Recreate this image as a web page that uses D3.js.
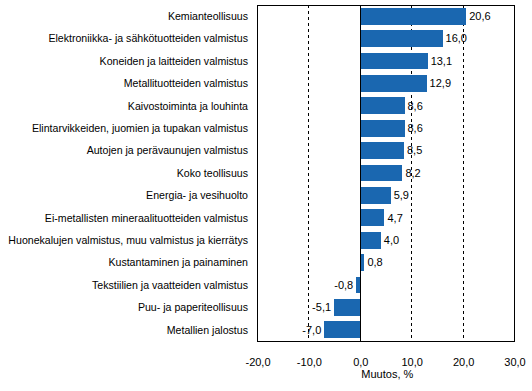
<!DOCTYPE html>
<html><head><meta charset="utf-8">
<script src="https://cdn.jsdelivr.net/npm/d3@7"></script>
<style>body{margin:0;background:#fff}svg{display:block}text{font-family:"Liberation Sans",Arial,sans-serif;font-size:11px;fill:#000}</style>
</head><body><svg id="c" width="532" height="391"></svg>
<script>
const categories = ["Kemianteollisuus","Elektroniikka- ja sähkötuotteiden valmistus","Koneiden ja laitteiden valmistus","Metallituotteiden valmistus","Kaivostoiminta ja louhinta","Elintarvikkeiden, juomien ja tupakan valmistus","Autojen ja perävaunujen valmistus","Koko teollisuus","Energia- ja vesihuolto","Ei-metallisten mineraalituotteiden valmistus","Huonekalujen valmistus, muu valmistus ja kierrätys","Kustantaminen ja painaminen","Tekstiilien ja vaatteiden valmistus","Puu- ja paperiteollisuus","Metallien jalostus"];
const values = [20.6,16.0,13.1,12.9,8.6,8.6,8.5,8.2,5.9,4.7,4.0,0.8,-0.8,-5.1,-7.0];
const tickValues = [-20,-10,0,10,20,30];
const gridValues = [-10,10,20];
const axisTitle = "Muutos, %";

const svg = d3.select("#c");
const L=257.5, R=514.5, T=5, B=341;
const x = d3.scaleLinear().domain([-20,30]).range([L,R]);
const y = d3.scaleBand().domain(categories).range([T,B]).paddingInner(0.255).paddingOuter(0.127);
const fmt = v => d3.format(".1f")(v).replace(".",",").replace("−","-");

svg.append("g").selectAll("line").data(gridValues).join("line")
  .attr("x1",d=>x(d)).attr("x2",d=>x(d)).attr("y1",T).attr("y2",B)
  .attr("stroke","#000").attr("stroke-dasharray","3,3").attr("shape-rendering","crispEdges");

svg.append("g").selectAll("rect").data(values).join("rect")
  .attr("x",d=>x(Math.min(0,d))).attr("width",d=>Math.abs(x(d)-x(0)))
  .attr("y",(d,i)=>y(categories[i])).attr("height",y.bandwidth())
  .attr("fill","#1a67b0").attr("shape-rendering","crispEdges");

svg.append("line").attr("x1",x(0)).attr("x2",x(0)).attr("y1",T).attr("y2",B)
  .attr("stroke","#000").attr("shape-rendering","crispEdges");

svg.append("rect").attr("x",L).attr("y",T).attr("width",R-L).attr("height",B-T)
  .attr("fill","none").attr("stroke","#000").attr("shape-rendering","crispEdges");

svg.append("g").selectAll("text").data(values).join("text")
  .attr("x",d=>d>=0? x(d)+3 : x(d)-3)
  .attr("text-anchor",d=>d>=0?"start":"end")
  .attr("y",(d,i)=>y(categories[i])+y.bandwidth()/2).attr("dy","0.35em")
  .text(d=>fmt(d));

svg.append("g").selectAll("text").data(categories).join("text")
  .attr("x",248).attr("text-anchor","end").style("font-size","10.6px")
  .attr("y",d=>y(d)+y.bandwidth()/2).attr("dy","0.35em").text(d=>d);

const ax = d3.axisBottom(x).tickValues(tickValues).tickSize(0).tickPadding(0).tickFormat(fmt);
const g = svg.append("g").attr("transform",`translate(0,${B+17})`).call(ax);
g.select(".domain").remove();
g.selectAll("text").attr("dy","0.35em").style("font-family","\"Liberation Sans\",Arial,sans-serif").style("font-size","11px").attr("y",4);

svg.append("text").attr("x",x(0)+27).attr("y",374).attr("dy","0.35em").attr("text-anchor","middle").text(axisTitle);
</script></body></html>
